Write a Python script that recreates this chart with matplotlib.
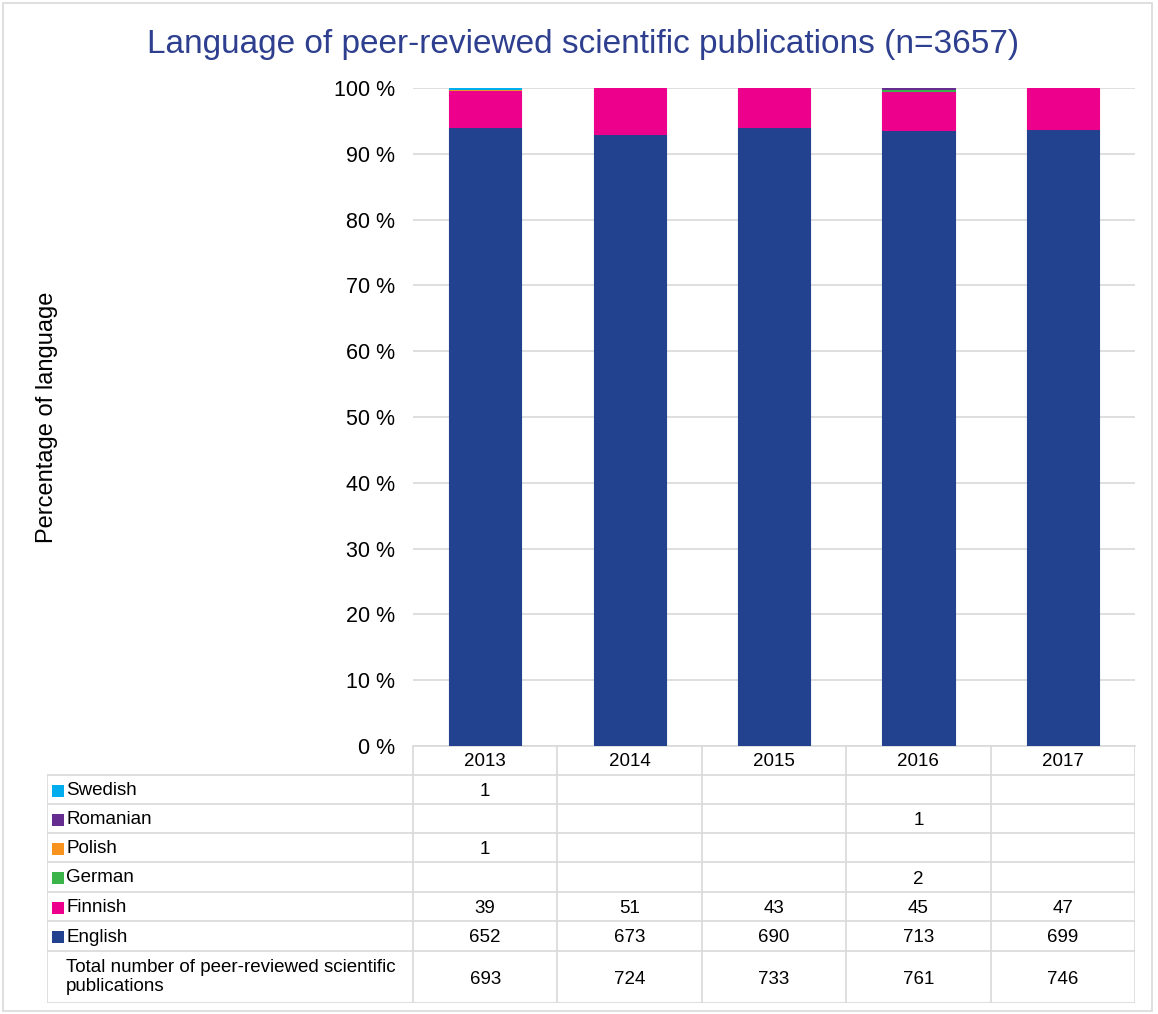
import numpy as np
import matplotlib.pyplot as plt
from matplotlib.patches import Rectangle

plt.rcParams['font.family'] = ['Liberation Sans', 'DejaVu Sans']

# 資料
years = ['2013', '2014', '2015', '2016', '2017']
languages = ['English', 'Finnish', 'German', 'Polish', 'Romanian', 'Swedish']
english = [652, 673, 690, 713, 699]
finnish = [39, 51, 43, 45, 47]
german = [0, 0, 0, 2, 0]
polish = [1, 0, 0, 0, 0]
romanian = [0, 0, 0, 1, 0]
swedish = [1, 0, 0, 0, 0]
totals = [693, 724, 733, 761, 746]
colors = ['#22418E', '#EC008C', '#3BB44A', '#F7931E', '#662D91', '#00AEEF']
total_label = 'Total number of peer-reviewed scientific\npublications'

counts = np.array([english, finnish, german, polish, romanian, swedish], dtype=float)
pct = counts / np.array(totals) * 100

W, H = 1158, 1014
fig = plt.figure(figsize=(W / 100, H / 100), dpi=100)
grid_c = '#d9d9d9'
fs = 13.5

def fx(px):
    return px / W

def fy(py):
    return 1 - py / H

# 圖框
fig.patches.append(Rectangle((fx(3), fy(1011)), fx(1149), 1008 / H, transform=fig.transFigure,
                             fill=False, edgecolor=grid_c, linewidth=1.2))

# 長條圖 (只畫非零的區段)
ax = fig.add_axes([fx(413), fy(746), fx(1135 - 413), (746 - 88) / H])
x = np.arange(len(years))
bottom = np.zeros(len(years))
for i, lang in enumerate(languages):
    m = pct[i] > 0
    ax.bar(x[m], pct[i][m], 0.5, bottom=bottom[m], color=colors[i], edgecolor=colors[i],
           linewidth=0.8, label=lang, zorder=3)
    bottom += pct[i]
ax.set_xlim(-0.5, len(years) - 0.5)
ax.set_ylim(0, 100)
ax.set_yticks(np.arange(0, 101, 10))
ax.set_yticklabels([f'{v} %' for v in range(0, 101, 10)], fontsize=15.5)
ax.tick_params(axis='y', length=0, pad=13)
ax.set_xticks([])
ax.yaxis.grid(True, color=grid_c, linewidth=1.2, zorder=0)
for s in ['top', 'left', 'right']:
    ax.spines[s].set_visible(False)
ax.spines['bottom'].set_color(grid_c)
ax.spines['bottom'].set_linewidth(1.2)

fig.text(fx(583), fy(45), 'Language of peer-reviewed scientific publications (n=3657)',
         ha='center', va='center', fontsize=24, color='#2E3F8F')
fig.text(fx(47), fy(417), 'Percentage of language', rotation=90, ha='center', va='center',
         fontsize=17)

# 資料表
col_w = (1135 - 413) / len(years)
x_left = -0.5 - (413 - 47) / col_w
tab = fig.add_axes([fx(47), fy(1003), fx(1135 - 47), (1003 - 746) / H])
tab.set_xlim(x_left, len(years) - 0.5)
tab.set_ylim(1003, 746)
tab.axis('off')

row_edges = [746, 775, 804, 833, 862, 892, 921, 951, 1003]
lw = 1.2
# 欄標題
for j, yr in enumerate(years):
    tab.text(j, (row_edges[0] + row_edges[1]) / 2 + 1, yr, ha='center', va='center', fontsize=fs)
for k in range(len(years) + 1):
    tab.plot([k - 0.5, k - 0.5], [row_edges[0], row_edges[-1]], color=grid_c, lw=lw)
tab.plot([x_left, x_left], [row_edges[1], row_edges[-1]], color=grid_c, lw=lw)
for e in row_edges[1:]:
    tab.plot([x_left, len(years) - 0.5], [e, e], color=grid_c, lw=lw)

table_rows = list(range(len(languages) - 1, -1, -1))
sq_x = x_left + (58 - 47) / col_w
txt_x = x_left + (66 - 47) / col_w
for r, li in enumerate(table_rows):
    yc = (row_edges[r + 1] + row_edges[r + 2]) / 2
    tab.scatter([sq_x], [yc + 1], marker='s', s=70, color=colors[li], linewidths=0)
    tab.text(txt_x, yc + 1, languages[li], ha='left', va='center', fontsize=fs)
    for j in range(len(years)):
        v = int(counts[li, j])
        if v:
            tab.text(j, yc + 2, str(v), ha='center', va='center', fontsize=fs)
yc = (row_edges[-2] + row_edges[-1]) / 2
tab.text(txt_x, yc, total_label, ha='left', va='center', fontsize=fs, linespacing=1.15)
for j in range(len(years)):
    tab.text(j, yc + 2, str(totals[j]), ha='center', va='center', fontsize=fs)

fig.savefig('out.png', dpi=100)
